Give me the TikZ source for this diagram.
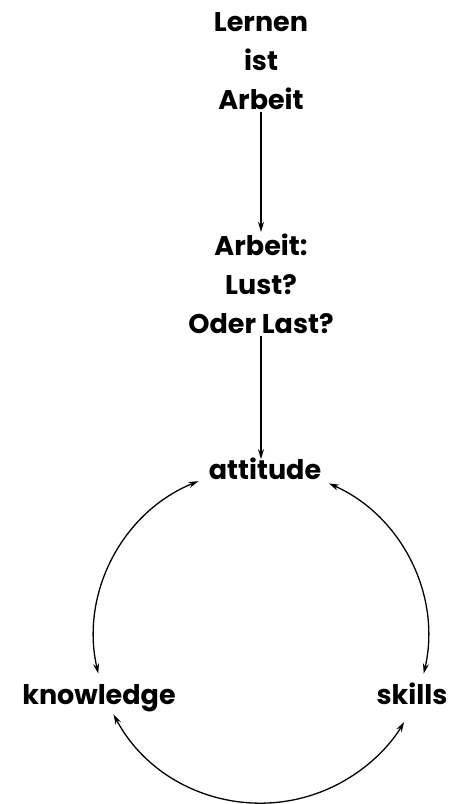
\documentclass[tikz,border=0pt]{standalone}
\usepackage{fontspec}
\setmainfont{Poppins}
\usetikzlibrary{arrows.meta,calc}

\begin{document}
\begin{tikzpicture}[x=1pt,y=1pt,
  lbl/.style={font=\fontsize{27}{39}\selectfont\bfseries, align=center, inner sep=2pt},
  link/.style={-{Stealth[length=10pt,width=6pt]}, line width=1.3pt},
  both/.style={{Stealth[length=10pt,width=6pt]}-{Stealth[length=10pt,width=6pt]}, line width=1.3pt}]
\useasboundingbox (0,0) rectangle (459,804);
\coordinate (O) at (261,168);
\node[lbl] (lern) at (261,743) {Lernen\\ist\\Arbeit};
\node[lbl] (lust) at (261,520) {Arbeit:\\Lust?\\Oder~Last?};
\node[lbl, anchor=base] (att) at (265,324) {attitude};
\node[lbl, anchor=base] (kno) at (99,99) {knowledge};
\node[lbl, anchor=base] (ski) at (412,99) {skills};
\draw[link] (lern.south) -- (lust.north);
\draw[link] (lust.south) -- ([yshift=-3pt]lust.south |- att.north);
% circle of three arcs
\foreach \n/\a/\b in {l/112/193, r/66/-13, u/208/329}{
  \coordinate (\n) at ($(O)+(\a:167)$);
  \draw[both] (\n) arc[start angle=\a, end angle=\b, radius=167];
}
\end{tikzpicture}
\end{document}
